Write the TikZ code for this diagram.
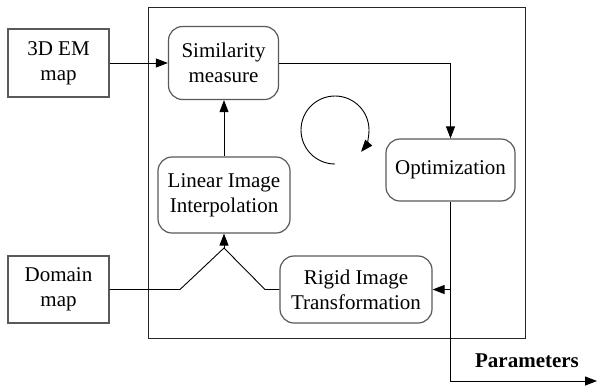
\documentclass[tikz,border=0pt]{standalone}
\usepackage{fontspec}
\setmainfont{Liberation Serif}
\usetikzlibrary{arrows.meta}

\begin{document}
\begin{tikzpicture}[x=0.5pt, y=-0.5pt,
	sqbox/.style={draw=black!65, line width=0.6pt, align=center, inner sep=1pt,
		font=\fontsize{10.5}{12.5}\selectfont},
	rbox/.style={sqbox, rounded corners=7pt},
	flow/.style={-{Triangle[length=6pt, width=4.5pt]}, line width=0.45pt}]

\useasboundingbox (0, 0) rectangle (598, 386);
\draw[line width=0.45pt, black!85] (148, 7) rectangle (525, 338);

\node[sqbox, minimum width=50.5pt, minimum height=34pt] (em) at (58.5, 63) {3D EM\\map};
\node[sqbox, minimum width=50.5pt, minimum height=33.5pt] (dom) at (58.5, 289.5) {Domain\\map};
\node[rbox, minimum width=55pt, minimum height=36.5pt] (sim) at (223.5, 63) {Similarity\\measure};
\node[rbox, minimum width=64.5pt, minimum height=31pt] (opt) at (450.5, 170) {Optimization};
\node[rbox, minimum width=66pt, minimum height=38pt] (lin) at (224, 195) {Linear Image\\Interpolation};
\node[rbox, minimum width=76pt, minimum height=33.5pt] (rig) at (356, 289.5) {Rigid Image\\Transformation};
\node[font=\fontsize{10.5}{12.5}\selectfont\bfseries] (par) at (527, 361) {Parameters};

\coordinate (join) at (224, 248);
\coordinate (out) at (597, 381);

\draw[flow] (em.east) -- (sim.west);
\draw[flow] (sim.east) -| (opt.north);
\draw[flow] (lin.north) -- (lin.north |- sim.south);
\draw[line width=0.45pt] (dom.east) -- (180, 289.5) -- (join) -- (265, 289.5) -- (rig.west);
\draw[flow] (join) -- (lin.south);
\draw[flow] (opt.south) |- (out);
\draw[flow] (opt.south |- rig.east) -- (rig.east);

% loop
\draw[flow] (335, 164) arc[start angle=90, end angle=400, radius=34];
\end{tikzpicture}
\end{document}
